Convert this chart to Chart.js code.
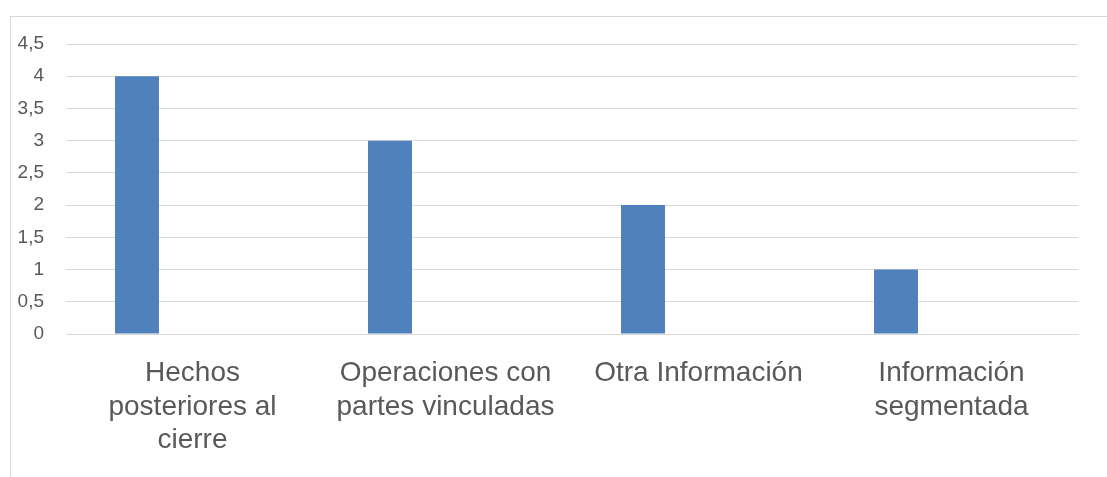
<!DOCTYPE html>
<html lang="es">
<head>
    <meta charset="UTF-8">
    <title>Gráfico de columnas</title>
    <script src="https://cdn.jsdelivr.net/npm/chart.js"></script>
    <style>
        html, body { margin: 0; padding: 0; background: #fff; overflow: hidden; }
        .marco {
            position: absolute; left: 10px; top: 16px;
            width: 1200px; height: 600px;
            border: 1px solid #d9d9d9;
        }
        #grafico { position: absolute; left: 0; top: 0; }
    </style>
</head>
<body>
    <div class="marco"></div>
    <canvas id="grafico" width="1107" height="477"></canvas>

    <script>
        // Datos
        const categorias = [
            ['Hechos', 'posteriores al', 'cierre'],
            ['Operaciones con', 'partes vinculadas'],
            'Otra Información',
            ['Información', 'segmentada']
        ];
        const valores = [4, 3, 2, 1];
        const serieVacia = [null, null, null, null]; // serie sin datos (deja la columna a la izquierda)
        const marcasY = ['0', '0,5', '1', '1,5', '2', '2,5', '3', '3,5', '4', '4,5'];

        const ctx = document.getElementById('grafico').getContext('2d');
        new Chart(ctx, {
            type: 'bar',
            data: {
                labels: categorias,
                datasets: [
                    {
                        label: 'Serie 1',
                        data: valores,
                        backgroundColor: '#4f81bd',
                        borderWidth: 0,
                        categoryPercentage: 0.8775,
                        barPercentage: 0.396
                    },
                    {
                        label: 'Serie 2',
                        data: serieVacia,
                        backgroundColor: '#c0504d',
                        categoryPercentage: 0.8775,
                        barPercentage: 0.396
                    }
                ]
            },
            options: {
                responsive: false,
                animation: false,
                layout: { padding: { left: 10, right: 29, top: 44, bottom: 0 } },
                plugins: {
                    legend: { display: false },
                    tooltip: { enabled: false }
                },
                scales: {
                    x: {
                        grid: { display: false },
                        border: { display: true, color: '#d9d9d9', width: 1 },
                        ticks: {
                            color: '#595959',
                            font: { family: '"Liberation Sans", Arial, sans-serif', size: 28, lineHeight: 1.19 },
                            padding: 15,
                            maxRotation: 0,
                            autoSkip: false
                        },
                        afterFit: (escala) => { escala.height = 143; }
                    },
                    y: {
                        min: 0,
                        max: 4.5,
                        grid: { color: '#d9d9d9', lineWidth: 1, drawTicks: false },
                        border: { display: false },
                        ticks: {
                            stepSize: 0.5,
                            color: '#595959',
                            font: { family: '"Liberation Sans", Arial, sans-serif', size: 19 },
                            padding: 22,
                            callback: (v, i) => marcasY[i]
                        },
                        afterFit: (escala) => { escala.width = 56; }
                    }
                }
            }
        });
    </script>
</body>
</html>
